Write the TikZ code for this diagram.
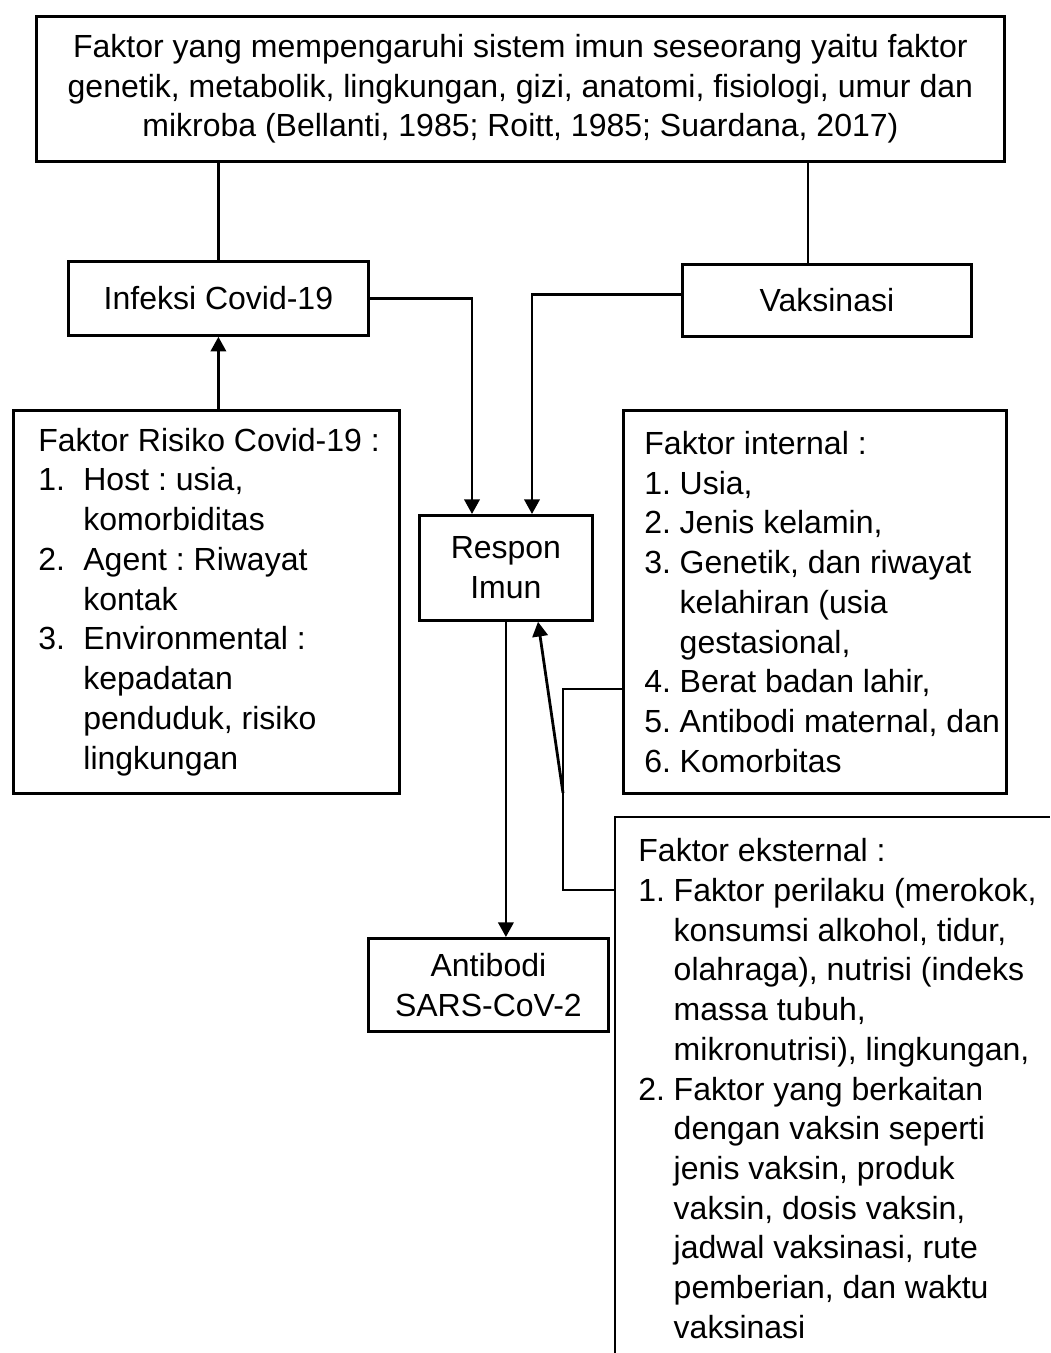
\documentclass[tikz,border=0pt]{standalone}
\usepackage{fontspec}
\setmainfont{Liberation Sans}
\usetikzlibrary{arrows.meta}

\newcommand{\nb}[2][26.5pt]{\makebox[#1][l]{#2}}
\frenchspacing

\begin{document}
\begin{tikzpicture}[
        x=0.75pt, y=-0.75pt,
        line width=2.1pt,
        fr/.style={draw, anchor=north west, inner sep=0pt, align=center},
        txt/.style={anchor=west, inner sep=0pt, align=left},
        arr/.style={-{Triangle[length=11pt,width=11.5pt]}},
        font=\fontsize{24}{29.8}\selectfont
    ]
    \useasboundingbox (0,0) rectangle (1050,1353);

    % Boxes
    \node[fr, minimum width=726pt, minimum height=108.75pt] (tbox) at (35,15)
        {Faktor yang mempengaruhi sistem imun seseorang yaitu faktor\\
         genetik, metabolik, lingkungan, gizi, anatomi, fisiologi, umur dan\\
         mikroba (Bellanti, 1985; Roitt, 1985; Suardana, 2017)};
    \node[fr, minimum width=225pt, minimum height=55.5pt] (infeksi) at (67,260) {Infeksi Covid-19};
    \node[fr, minimum width=216.75pt, minimum height=54pt] (vaksin) at (681,263) {Vaksinasi};
    \node[fr, minimum width=289.5pt, minimum height=287.25pt] (risiko) at (12,409) {};
    \node[fr, minimum width=129.75pt, minimum height=78.75pt] (respon) at (418,514) {Respon\\Imun};
    \node[fr, minimum width=287.25pt, minimum height=287.25pt] (internal) at (622,409) {};
    \node[fr, minimum width=180pt, minimum height=69.75pt] (antibodi) at (367,937) {Antibodi\\SARS-CoV-2};

    % Texts of the list boxes
    \node[txt] (risikotxt) at ([xshift=18.75pt]risiko.west)
        {Faktor Risiko Covid-19 :\\
         \nb[33.75pt]{1.}Host : usia,\\
         \nb[33.75pt]{}komorbiditas\\
         \nb[33.75pt]{2.}Agent : Riwayat\\
         \nb[33.75pt]{}kontak\\
         \nb[33.75pt]{3.}Environmental :\\
         \nb[33.75pt]{}kepadatan\\
         \nb[33.75pt]{}penduduk, risiko\\
         \nb[33.75pt]{}lingkungan};
    \node[txt] (internaltxt) at ([xshift=15.75pt]internal.west)
        {Faktor internal :\\
         \nb{1.}Usia,\\
         \nb{2.}Jenis kelamin,\\
         \nb{3.}Genetik, dan riwayat\\
         \nb{}kelahiran (usia\\
         \nb{}gestasional,\\
         \nb{4.}Berat badan lahir,\\
         \nb{5.}Antibodi maternal, dan\\
         \nb{6.}Komorbitas};

    % Open box of external factors
    \draw (615,1353) -- (615,817) -- (1050,817);
    \coordinate (extin) at (615,890);
    \node[txt, anchor=north west] (eksternal) at (637,837)
        {Faktor eksternal :\\
         \nb{1.}Faktor perilaku (merokok,\\
         \nb{}konsumsi alkohol, tidur,\\
         \nb{}olahraga), nutrisi (indeks\\
         \nb{}massa tubuh,\\
         \nb{}mikronutrisi), lingkungan,\\
         \nb{2.}Faktor yang berkaitan\\
         \nb{}dengan vaksin seperti\\
         \nb{}jenis vaksin, produk\\
         \nb{}vaksin, dosis vaksin,\\
         \nb{}jadwal vaksinasi, rute\\
         \nb{}pemberian, dan waktu\\
         \nb{}vaksinasi};

    % Connectors
    \draw (infeksi.north |- tbox.south) -- (infeksi.north);
    \draw (tbox.south -| 808,0) -- (vaksin.north -| 808,0);
    \draw[arr] (risiko.north -| infeksi.south) -- (infeksi.south);
    \draw[arr] (infeksi.east) -| (respon.north -| 472,0);
    \draw[arr] ([yshift=4.5pt]vaksin.west) -| (respon.north -| 532,0);
    \draw[arr] (respon.south) -- (respon.south |- antibodi.north);

    \coordinate (bend) at (563,689);
    \coordinate (jn) at (563,793);
    \draw (internal.west |- bend) -- (bend) -- (bend |- extin) -- (extin);
    \draw[arr] (jn) -- (respon.south -| 538,0);
\end{tikzpicture}
\end{document}
